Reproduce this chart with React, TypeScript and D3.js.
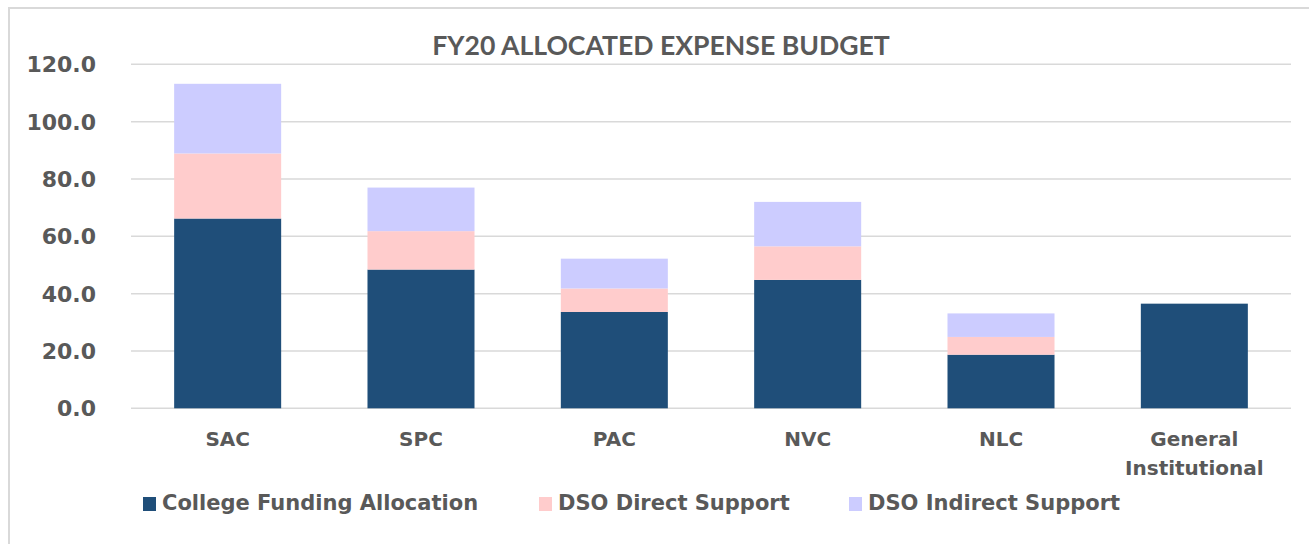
import React from "react";
import * as d3 from "d3";

const categories = ["SAC", "SPC", "PAC", "NVC", "NLC", "General Institutional"];
const seriesNames = ["College Funding Allocation", "DSO Direct Support", "DSO Indirect Support"];
const collegeFunding = [66.2, 48.4, 33.6, 44.8, 18.7, 36.5];
const dsoDirect = [22.7, 13.4, 8.2, 11.7, 6.2, 0];
const dsoIndirect = [24.3, 15.2, 10.4, 15.5, 8.2, 0];
const yTicks = [0, 20, 40, 60, 80, 100, 120];
const colors = ["#1f4e79", "#ffcccc", "#ccccff"];

const textColor = "#595959";
const font = "'DejaVu Sans', sans-serif";

export default function App() {
  const w = 1309,
    h = 544;
  const plot = { left: 131, right: 1291, top: 64.3, bottom: 408.3 };

  const rows = categories.map((c, i) => ({
    cat: c,
    s0: collegeFunding[i],
    s1: dsoDirect[i],
    s2: dsoIndirect[i]
  }));
  const stack = d3.stack<any>().keys(["s0", "s1", "s2"]);
  const layers = stack(rows);

  const xScale = d3.scaleBand()
    .domain(categories)
    .range([plot.left, plot.right])
    .paddingInner(0.4465)
    .paddingOuter(0.2232);

  const yScale = d3.scaleLinear()
    .domain([0, 120])
    .range([plot.bottom, plot.top]);

  const grid = yTicks.map((t, i) => (
    <g key={i}>
      <line
        x1={plot.left}
        x2={plot.right}
        y1={yScale(t)}
        y2={yScale(t)}
        stroke="#d9d9d9"
        strokeWidth={1.5}
      />
      <text
        x={96}
        y={yScale(t) + 8}
        textAnchor="end"
        fontFamily={font}
        fontWeight="bold"
        fontSize={22}
        fill={textColor}
      >
        {t.toFixed(1)}
      </text>
    </g>
  ));

  const bars = layers.map((layer, li) => (
    <g key={li} fill={colors[li]}>
      {layer.map((d, i) =>
        d[1] - d[0] > 0 ? (
          <rect
            key={i}
            x={xScale(categories[i])}
            y={yScale(d[1])}
            width={xScale.bandwidth()}
            height={yScale(d[0]) - yScale(d[1])}
          />
        ) : null
      )}
    </g>
  ));

  const catLabels = categories.map((c, i) => {
    const cx = (xScale(c) as number) + xScale.bandwidth() / 2;
    const words = c.split(" ");
    return (
      <text
        key={i}
        x={cx}
        y={446}
        textAnchor="middle"
        fontFamily={font}
        fontWeight="bold"
        fontSize={20}
        fill={textColor}
      >
        {words.map((wd, j) => (
          <tspan key={j} x={cx} dy={j === 0 ? 0 : 28.5}>{wd}</tspan>
        ))}
      </text>
    );
  });

  const legendX = [143, 539, 849];
  const legend = seriesNames.map((s, i) => (
    <g key={i} transform={`translate(${legendX[i]},497)`}>
      <rect width={13} height={14} fill={colors[i]} />
      <text
        x={19}
        y={13}
        fontFamily={font}
        fontWeight="bold"
        fontSize={21}
        fill={textColor}
      >
        {s}
      </text>
    </g>
  ));

  return (
    <svg
      width={w}
      height={h}
      style={{ position: "absolute", left: 0, top: 0, background: "#fff" }}
    >
      <rect x={9} y={8} width={1400} height={600} fill="#fff" stroke="#d9d9d9" strokeWidth={2} />
      <text
        x={661}
        y={55}
        textAnchor="middle"
        fontFamily="Lato, 'Open Sans', sans-serif"
        fontWeight="bold"
        fontSize={26.6}
        fill={textColor}
      >
        FY20 ALLOCATED EXPENSE BUDGET
      </text>
      {grid}
      {bars}
      {catLabels}
      {legend}
    </svg>
  );
}
